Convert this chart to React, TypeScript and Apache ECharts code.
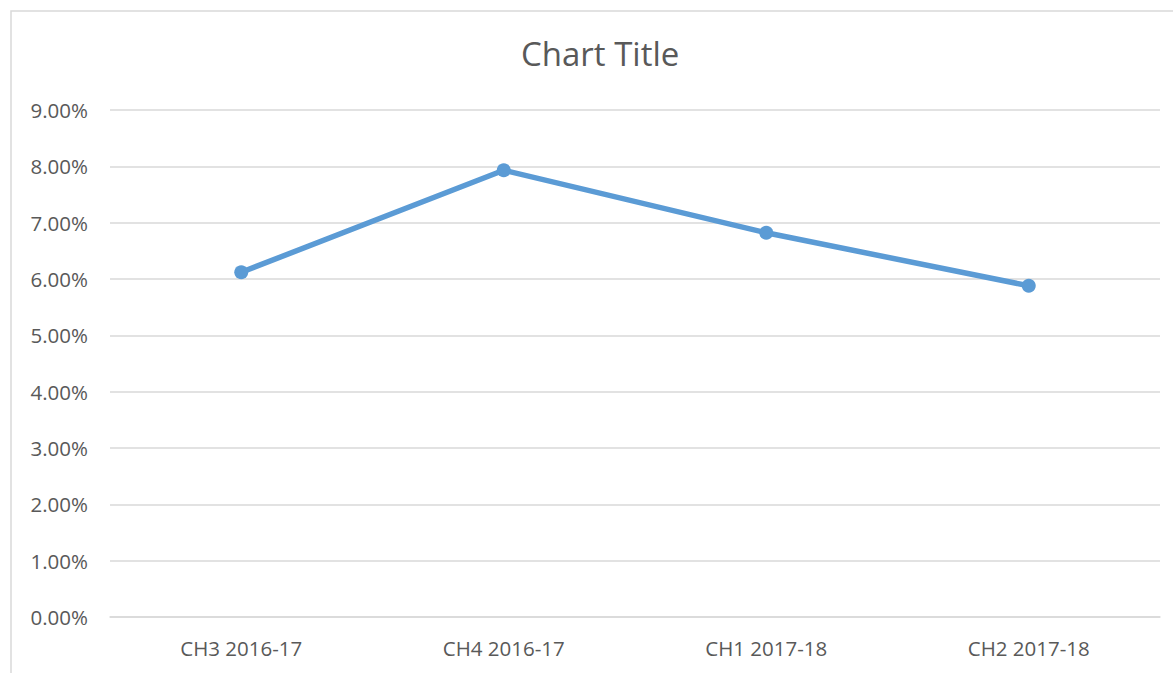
import React, { useEffect, useRef } from "react";
import * as echarts from "echarts";

const categories = ["CH3 2016-17", "CH4 2016-17", "CH1 2017-18", "CH2 2017-18"];
const values = [6.12, 7.93, 6.82, 5.88];
const chartTitle = "Chart Title";

export default function App() {
  const ref = useRef<HTMLDivElement>(null);
  useEffect(() => {
    const chart = echarts.init(ref.current!, null, { renderer: "svg" });
    chart.setOption({
      animation: false,
      backgroundColor: "#ffffff",
      title: {
        text: chartTitle,
        left: 521,
        top: 37,
        padding: 0,
        textStyle: { fontFamily: "Open Sans", fontSize: 33, fontWeight: "normal", color: "#595959" },
      },
      graphic: [
        {
          type: "rect",
          shape: { x: 11, y: 11, width: 1180, height: 680 },
          style: { fill: "none", stroke: "#D9D9D9", lineWidth: 1.5 },
          silent: true,
        },
      ],
      grid: { left: 110, right: 13, top: 110, bottom: 56 },
      xAxis: {
        type: "category",
        data: categories,
        boundaryGap: true,
        axisLine: { show: true, lineStyle: { color: "#D9D9D9", width: 1.5 } },
        axisTick: { show: false },
        axisLabel: { color: "#595959", fontFamily: "Open Sans", fontSize: 20.5, margin: 20 },
      },
      yAxis: {
        type: "value",
        min: 0,
        max: 9,
        interval: 1,
        axisLine: { show: false },
        axisTick: { show: false },
        splitLine: { lineStyle: { color: "#D9D9D9", width: 1.5 } },
        axisLabel: {
          color: "#595959",
          fontFamily: "Open Sans",
          fontSize: 20.5,
          margin: 22,
          formatter: (v: number) => v.toFixed(2) + "%",
        },
      },
      series: [
        {
          type: "line",
          data: values,
          symbol: "circle",
          symbolSize: 14,
          lineStyle: { color: "#5B9BD5", width: 5.5 },
          itemStyle: { color: "#5B9BD5" },
        },
      ],
    });
    return () => chart.dispose();
  }, []);
  return (
    <div
      ref={ref}
      style={{ position: "fixed", left: 0, top: 0, width: 1173, height: 673 }}
    />
  );
}
